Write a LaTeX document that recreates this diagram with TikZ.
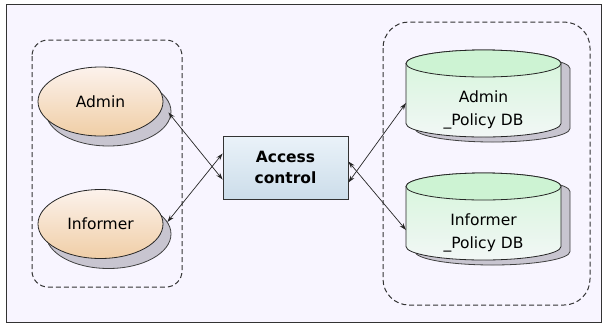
\documentclass[tikz,border=0pt]{standalone}
\usepackage{fontspec}
\setmainfont{DejaVu Sans}
\usetikzlibrary{arrows.meta}
\usetikzlibrary{shapes.geometric}
\usetikzlibrary{shadows}

\definecolor{bgcol}{HTML}{F8F5FF}
\definecolor{shadowcol}{HTML}{C8C5D0}
\definecolor{peachtop}{HTML}{FCF2EC}
\definecolor{peachbot}{HTML}{F0CEA6}
\definecolor{bluetop}{HTML}{EAF2F9}
\definecolor{bluebot}{HTML}{CCDDEA}
\definecolor{greentop}{HTML}{D4F5D9}
\definecolor{greenbot}{HTML}{F2F7F6}
\definecolor{greenlid}{HTML}{CDF3D3}

\tikzset{
	user/.style={ellipse, draw=black!85, line width=0.8pt, minimum width=125pt, minimum height=69pt,
		top color=peachtop, bottom color=peachbot, font=\fontsize{15.5}{24}\selectfont,
		copy shadow={shadow xshift=8pt, shadow yshift=-10pt, fill=shadowcol, draw=black!75}},
	ctrlbox/.style={rectangle, draw=black!80, line width=0.8pt, minimum width=125pt, minimum height=63pt,
		top color=bluetop, bottom color=bluebot, align=center,
		font=\fontsize{15.5}{21}\selectfont\bfseries},
	dbline/.style={draw=black!85, line width=0.8pt},
	dbshadow/.style={draw=black!75, line width=0.8pt, fill=shadowcol},
	grp/.style={draw=black!80, line width=1pt, dash pattern=on 5pt off 3pt},
	link/.style={draw=black!85, line width=0.7pt, {Stealth[length=7pt,width=4.5pt]}-{Stealth[length=7pt,width=4.5pt]}},
	txt/.style={align=center, font=\fontsize{15.5}{23}\selectfont}
}

\begin{document}
\begin{tikzpicture}[x=1pt,y=-1pt]
	\useasboundingbox (0,0) rectangle (602,325);
	\draw[black!80, line width=0.8pt, fill=bgcol] (6,4) rectangle (601,322);

	% groups
	\draw[grp, rounded corners=16pt] (32,40) rectangle (182,287);
	\draw[grp, rounded corners=26pt] (383,22) rectangle (590,305);

	% users
	\node[user] (admin) at (100.5,101.5) {Admin};
	\node[user] (informer) at (100.5,224) {Informer};

	% access control
	\node[ctrlbox] (access) at (285.5,167.5) {Access\\control};

	% policy databases (top of lid at \t)
	\foreach \t in {50,173} {
		\draw[dbshadow] (415,\t+18.5) -- (415,\t+78.5)
			arc[start angle=180, end angle=360, x radius=77.5pt, y radius=13.5pt]
			-- (570,\t+18.5) arc[start angle=0, end angle=180, x radius=77.5pt, y radius=13.5pt] -- cycle;
		\draw[dbline, top color=greentop, bottom color=greenbot] (406,\t+13.5) -- (406,\t+73.5)
			arc[start angle=180, end angle=360, x radius=77.5pt, y radius=13.5pt]
			-- (561,\t+13.5) arc[start angle=0, end angle=180, x radius=77.5pt, y radius=13.5pt] -- cycle;
		\draw[dbline, fill=greenlid] (483.5,\t+13.5) ellipse [x radius=77.5pt, y radius=13.5pt];
	}
	\node[txt] (admindb) at (483.5,110) {Admin\\\_Policy DB};
	\node[txt] (informerdb) at (483.5,233) {Informer\\\_Policy DB};
	\coordinate (admindb-w) at (406,103);
	\coordinate (informerdb-w) at (406,230);

	% links
	\draw[link] ([shift={(5,11)}]admin.east) -- ([yshift=-12pt]access.west);
	\draw[link] ([shift={(4,-2)}]informer.east) -- ([yshift=14pt]access.west);
	\draw[link] ([yshift=-15pt]access.east) -- (admindb-w);
	\draw[link] ([yshift=6pt]access.east) -- (informerdb-w);
\end{tikzpicture}
\end{document}
